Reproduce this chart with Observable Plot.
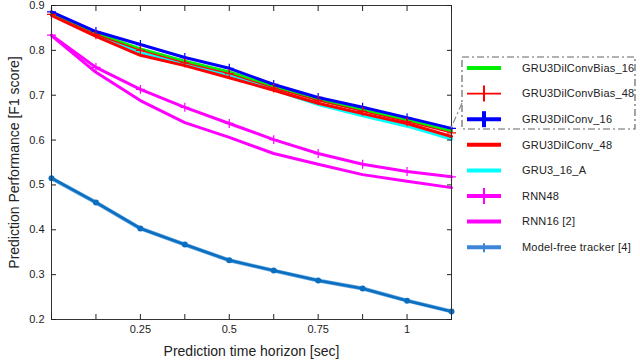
<!DOCTYPE html>
<html><head><meta charset="utf-8">
<script src="https://cdn.jsdelivr.net/npm/d3@7"></script>
<script src="https://cdn.jsdelivr.net/npm/@observablehq/plot@0.6"></script>
<style>
body{margin:0;background:#fff;font-family:"Liberation Sans",Arial,sans-serif;}
#wrap{position:relative;width:640px;height:364px;}
#legend{position:absolute;left:0;top:0;width:640px;height:364px;pointer-events:none;}
</style></head>
<body><div id="wrap"></div>
<script>
const horizon = [0, 0.125, 0.25, 0.375, 0.5, 0.625, 0.75, 0.875, 1, 1.125];
const gruBias16 = [0.883, 0.838, 0.803, 0.776, 0.752, 0.720, 0.690, 0.667, 0.645, 0.620];
const gruBias48 = [0.880, 0.835, 0.800, 0.772, 0.748, 0.716, 0.688, 0.664, 0.641, 0.616];
const gruConv16 = [0.886, 0.842, 0.813, 0.784, 0.760, 0.724, 0.695, 0.673, 0.650, 0.626];
const gruConv48 = [0.878, 0.831, 0.789, 0.766, 0.739, 0.711, 0.682, 0.659, 0.637, 0.608];
const gru16A    = [0.882, 0.836, 0.795, 0.770, 0.745, 0.712, 0.679, 0.654, 0.631, 0.602];
const rnn48     = [0.834, 0.762, 0.713, 0.673, 0.637, 0.601, 0.570, 0.546, 0.530, 0.518];
const rnn16     = [0.833, 0.751, 0.688, 0.639, 0.606, 0.570, 0.546, 0.523, 0.508, 0.494];
const tracker   = [0.515, 0.461, 0.403, 0.367, 0.332, 0.309, 0.287, 0.269, 0.242, 0.218];
const seriesNames = ["GRU3DilConvBias_16","GRU3DilConvBias_48","GRU3DilConv_16","GRU3DilConv_48","GRU3_16_A","RNN48","RNN16 [2]","Model-free tracker [4]"];
const xTicks = [0, 0.125, 0.25, 0.375, 0.5, 0.625, 0.75, 0.875, 1, 1.125];
const xTickLabels = ["", "", "0.25", "", "0.5", "", "0.75", "", "1", ""];
const yTicks = [0.2, 0.3, 0.4, 0.5, 0.6, 0.7, 0.8, 0.9];
const yTickLabels = ["0.2","0.3","0.4","0.5","0.6","0.7","0.8","0.9"];

const style = {
  "GRU3DilConvBias_16": {color:"#00ee00", w:3, marker:null},
  "GRU3DilConvBias_48": {color:"#ff0000", w:1.3, marker:"plus"},
  "GRU3DilConv_16": {color:"#0000ff", w:3, marker:"plus"},
  "GRU3DilConv_48": {color:"#ff0000", w:3, marker:null},
  "GRU3_16_A": {color:"#00ffff", w:3, marker:null},
  "RNN48": {color:"#ff00ff", w:3, marker:"plus"},
  "RNN16 [2]": {color:"#ff00ff", w:3, marker:null},
  "Model-free tracker [4]": {color:"#0a6fc0", w:2.6, marker:"circle"}
};
const values = [gruBias16, gruBias48, gruConv16, gruConv48, gru16A, rnn48, rnn16, tracker];
const rows = [];
seriesNames.forEach((s,i)=>values[i].forEach((v,j)=>rows.push({series:s, x:horizon[j], y:v})));
const drawOrder = ["Model-free tracker [4]","RNN16 [2]","RNN48","GRU3_16_A","GRU3DilConv_48","GRU3DilConvBias_16","GRU3DilConv_16","GRU3DilConvBias_48"];

const marks = [];
for (const s of drawOrder) {
  const d = rows.filter(r=>r.series===s);
  const st = style[s];
  if (s === "Model-free tracker [4]") {
    marks.push(Plot.line(d, {x:"x", y:"y", stroke:"#6aa8e0", strokeWidth:st.w+1.4}));
  }
  marks.push(Plot.line(d, {x:"x", y:"y", stroke:st.color, strokeWidth:st.w}));
  if (st.marker === "plus") marks.push(Plot.dot(d, {x:"x", y:"y", symbol:"plus", r:3, stroke:st.color, strokeWidth:1.2}));
  if (st.marker === "circle") marks.push(Plot.dot(d, {x:"x", y:"y", r:3, fill:st.color}));
}

const font = '"Liberation Sans", Arial, sans-serif';
const plot = Plot.plot({
  width: 640, height: 364,
  marginLeft: 51, marginRight: 189, marginTop: 5, marginBottom: 45,
  style: {fontFamily: font, fontSize: "11px", color: "#222", background: "#fff"},
  x: {domain: [0, 1.125]},
  y: {domain: [0.2, 0.9]},
  marks: [
    ...marks,
    Plot.frame({stroke: "#333", strokeWidth: 1}),
    Plot.axisX(xTicks, {anchor: "bottom", tickSize: 0, tickPadding: 6, tickFormat: (d,i)=>xTickLabels[i], label: null, fontSize: 11}),
    Plot.axisX(xTicks, {anchor: "bottom", tickSize: -5, tickFormat: ()=>"", label: null}),
    Plot.axisX(xTicks, {anchor: "top", tickSize: -5, tickFormat: ()=>"", label: null}),
    Plot.axisY(yTicks, {anchor: "left", tickSize: 0, tickPadding: 7, tickFormat: (d,i)=>yTickLabels[i], label: null, fontSize: 11}),
    Plot.axisY(yTicks, {anchor: "left", tickSize: -5, tickFormat: ()=>"", label: null}),
    Plot.axisY(yTicks, {anchor: "right", tickSize: -5, tickFormat: ()=>"", label: null}),
    Plot.text(["Prediction time horizon [sec]"], {frameAnchor: "bottom", dy: 36, fontSize: 14, fill: "#222", textAnchor: "middle"}),
    Plot.text(["Prediction Performance [F1 score]"], {frameAnchor: "left", dx: -37, rotate: -90, fontSize: 14, fill: "#222", textAnchor: "middle"})
  ]
});
document.getElementById("wrap").appendChild(plot);

// legend + dash-dot box as an SVG overlay
const svg = d3.select("#wrap").append("svg").attr("id","legend").attr("width",640).attr("height",364);
const xs = plot.scale("x"), ys = plot.scale("y");
const legTop = 68, legStep = 25.6, sx1 = 467, sx2 = 501, tx = 522;
seriesNames.forEach((s,i)=>{
  const st = style[s];
  const yy = legTop + i*legStep;
  const lw = s==="GRU3DilConvBias_48" ? 1.8 : 4;
  const c = s==="Model-free tracker [4]" ? "#3d85d8" : st.color;
  svg.append("line").attr("x1",sx1).attr("x2",sx2).attr("y1",yy).attr("y2",yy)
    .attr("stroke", c).attr("stroke-width",lw);
  if (st.marker === "plus" || st.marker === "circle") {
    svg.append("line").attr("x1",(sx1+sx2)/2).attr("x2",(sx1+sx2)/2).attr("y1",yy-(st.marker==="circle"?4:8)).attr("y2",yy+(st.marker==="circle"?5:8))
      .attr("stroke", c).attr("stroke-width", s==="GRU3DilConv_16"?4:2);
  }
  svg.append("text").attr("x",tx).attr("y",yy).attr("dy","0.35em")
    .attr("font-family",font).attr("font-size",11).attr("fill","#222").attr("letter-spacing","0.2px").text(s);
});
svg.append("rect").attr("x",462).attr("y",57).attr("width",173).attr("height",72)
  .attr("fill","none").attr("stroke","#666").attr("stroke-width",1.2).attr("stroke-dasharray","7,3,2,3");
svg.append("line").attr("x1",462).attr("y1",103)
  .attr("x2",xs.apply(horizon[horizon.length-1])).attr("y2",ys.apply(gruConv16[gruConv16.length-1]))
  .attr("stroke","#888").attr("stroke-width",1.2).attr("stroke-dasharray","7,3,2,3");
</script></body></html>
